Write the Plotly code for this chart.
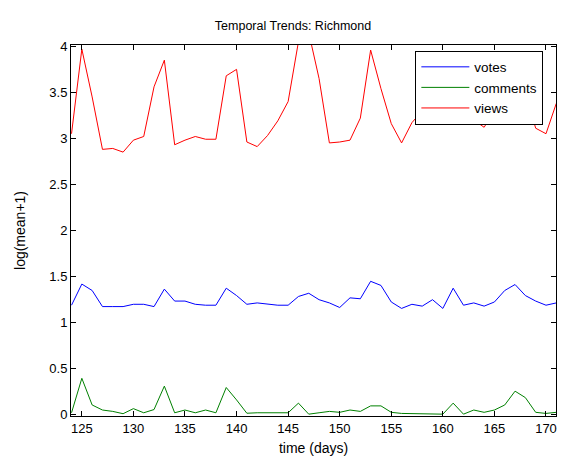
import plotly.graph_objects as go

days = list(range(124, 172))

votes = [1.185, 1.415, 1.345, 1.17, 1.17, 1.17, 1.195, 1.195, 1.17, 1.36,
         1.23, 1.23, 1.195, 1.185, 1.185, 1.37, 1.29, 1.195, 1.21, 1.195,
         1.185, 1.185, 1.28, 1.315, 1.245, 1.21, 1.16, 1.265, 1.255, 1.445,
         1.40, 1.22, 1.15, 1.195, 1.175, 1.245, 1.15, 1.37, 1.185, 1.21,
         1.175, 1.22, 1.345, 1.41, 1.29, 1.23, 1.185, 1.21]

comments = [0.015, 0.39, 0.10, 0.045, 0.03, 0.005, 0.06, 0.015, 0.05, 0.305,
            0.015, 0.045, 0.015, 0.045, 0.015, 0.29, 0.155, 0.01, 0.015, 0.015,
            0.015, 0.015, 0.12, 0.0, 0.015, 0.03, 0.02, 0.045, 0.03, 0.09,
            0.09, 0.02, 0.008, 0.008, 0.008, 0.005, 0.0, 0.12, 0.0, 0.045,
            0.02, 0.045, 0.10, 0.25, 0.18, 0.02, 0.008, 0.02]

views = [3.05, 3.97, 3.45, 2.88, 2.89, 2.85, 2.98, 3.02, 3.56, 3.85,
         2.93, 2.98, 3.02, 2.99, 2.99, 3.68, 3.75, 2.96, 2.91, 3.03,
         3.19, 3.40, 4.05, 4.15, 3.65, 2.95, 2.96, 2.98, 3.22, 3.96,
         3.54, 3.16, 2.95, 3.17, 3.30, 3.40, 3.85, 3.50, 3.20, 3.20,
         3.12, 3.30, 3.60, 3.90, 3.50, 3.11, 3.05, 3.38]

x_ticks = [125, 130, 135, 140, 145, 150, 155, 160, 165, 170]
y_ticks = [0, 0.5, 1, 1.5, 2, 2.5, 3, 3.5, 4]

series = [("votes", votes, "rgb(0,0,255)"),
          ("comments", comments, "rgb(0,128,0)"),
          ("views", views, "rgb(255,0,0)")]

fig = go.Figure()
for name, vals, col in series:
    fig.add_trace(go.Scatter(x=days, y=vals, mode="lines", name=name,
                             line=dict(color=col, width=1)))

font = dict(family="Liberation Sans, Arial, sans-serif", size=12, color="black")

fig.update_layout(
    width=570, height=457,
    margin=dict(l=63, r=22, t=37, b=41),
    paper_bgcolor="white", plot_bgcolor="white",
    font=font,
    title=dict(text="Temporal Trends: Richmond", x=0.5, xanchor="center",
               y=0.962, yanchor="middle", font=dict(size=12.5)),
    showlegend=True,
    legend=dict(x=0.71, y=0.985, xanchor="left", yanchor="top",
                bgcolor="white", bordercolor="black", borderwidth=1,
                font=dict(size=13.5), tracegroupgap=0, itemwidth=48,
                entrywidth=0),
    xaxis=dict(range=[123.95, 170.97], tickvals=x_ticks, ticks="inside",
               ticklen=5, tickcolor="black", showline=True, linecolor="black",
               linewidth=1, mirror="ticks", showgrid=False, zeroline=False,
               title=dict(text="time (days)", standoff=8),
               tickfont=dict(size=13)),
    yaxis=dict(range=[-0.02, 4.015], tickvals=y_ticks, ticks="inside",
               ticklen=5, tickcolor="black", showline=True, linecolor="black",
               linewidth=1, mirror="ticks", showgrid=False, zeroline=False,
               title=dict(text="log(mean+1)", standoff=20),
               tickfont=dict(size=13)),
)

fig.write_html("out.html")
